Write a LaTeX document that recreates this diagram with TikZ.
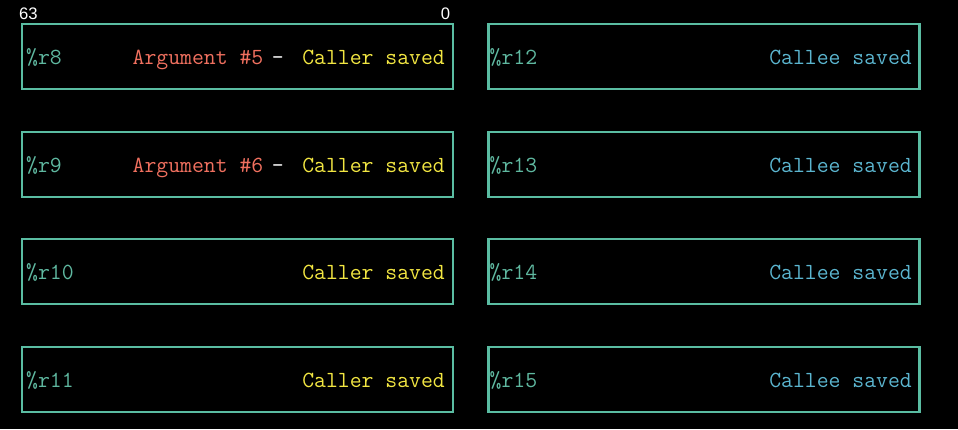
\documentclass[tikz,border=0pt]{standalone}
\usepackage{fontspec}
\newfontfamily\labfont{Liberation Sans}
\usetikzlibrary{calc}
\definecolor{boxc}{HTML}{5ABCA2}
\definecolor{regc}{HTML}{5FB8A0}
\definecolor{argc}{HTML}{F0705F}
\definecolor{callerc}{HTML}{F2E642}
\definecolor{calleec}{HTML}{5BB5CF}
\tikzset{
  regbox/.style={draw=boxc, line width=1.6pt, minimum width=323.25pt, minimum height=48.75pt, inner sep=0pt},
  tt/.style={inner sep=0pt, font=\fontsize{17.3}{20}\selectfont\ttfamily},
  regname/.style={tt, text=regc, anchor=base west},
  caller/.style={tt, text=callerc, anchor=base east},
  callee/.style={tt, text=calleec, anchor=base east},
  arg/.style={tt, text=argc, anchor=base west},
  dashn/.style={tt, text=white, anchor=base},
  bitlab/.style={inner sep=0pt, text=white, font=\fontsize{12.5}{14}\labfont, anchor=base}
}
\begin{document}
\begin{tikzpicture}[x=0.75pt, y=-0.75pt]
\fill[black] (0,0) rectangle (958,429);
\useasboundingbox (0,0) rectangle (958,429);
% boxes
\foreach \n/\y in {8/56.5, 9/164.5, 10/271.5, 11/379.5}{
  \node[regbox] (b\n) at (237.5,\y) {};
}
\foreach \n/\y in {12/56.5, 13/164.5, 14/271.5, 15/379.5}{
  \node[regbox] (b\n) at (704,\y) {};
}
% bit labels
\node[bitlab] (l63) at (28.5,19.5) {63};
\node[bitlab] (l0) at (445.5,19.5) {0};
% left column text
\foreach \n in {8,9,10,11}{
  \node[regname] (n\n) at ($(b\n.west)+(5,7.5)$) {\%r\n};
  \node[caller] (c\n) at ($(b\n.east)+(-9,7.5)$) {Caller saved};
}
\foreach \n in {12,13,14,15}{
  \node[regname] (n\n) at ($(b\n.west)+(2,7.5)$) {\%r\n};
  \node[callee] (c\n) at ($(b\n.east)+(-8.5,7.5)$) {Callee saved};
}
\node[arg] (a5) at ($(b8.west)+(111.5,7.5)$) {Argument \#5};
\node[dashn] (d5) at ($(b8.west)+(257,7.5)$) {-};
\node[arg] (a6) at ($(b9.west)+(111.5,7.5)$) {Argument \#6};
\node[dashn] (d6) at ($(b9.west)+(257,7.5)$) {-};
\end{tikzpicture}
\end{document}
